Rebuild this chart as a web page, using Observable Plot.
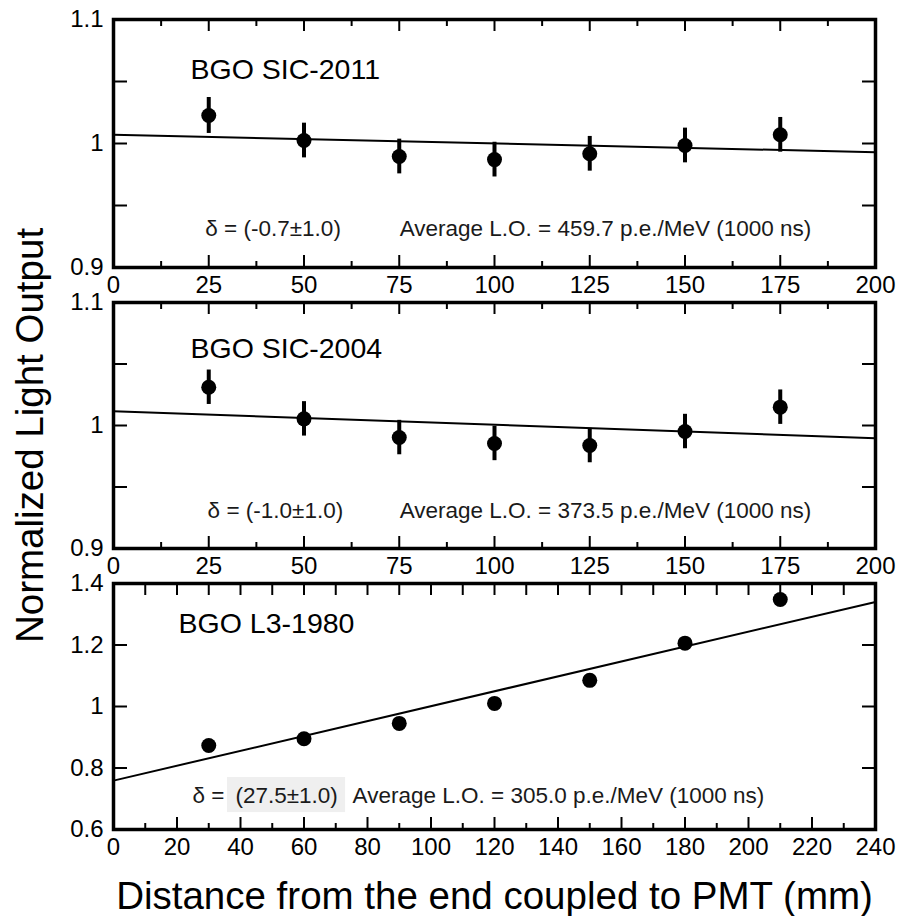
<!DOCTYPE html>
<html><head><meta charset="utf-8">
<script src="https://cdn.jsdelivr.net/npm/d3@7"></script>
<script src="https://cdn.jsdelivr.net/npm/@observablehq/plot@0.6"></script>
<style>
body{margin:0;background:#fff;}
#chart{position:relative;width:900px;height:916px;background:#fff;}
#chart svg{position:absolute;left:0;top:0;}
</style></head><body><div id="chart"></div>
<script>
// ---- data ----
const posSIC = [25, 50, 75, 100, 125, 150, 175];
const lo2011 = [1.0226, 1.0024, 0.9895, 0.9870, 0.9917, 0.9984, 1.0070];
const err2011 = [0.0145, 0.014, 0.014, 0.014, 0.014, 0.014, 0.014];
const fitX2011 = [0, 200];
const fitY2011 = [1.007, 0.993];

const lo2004 = [1.0311, 1.0054, 0.9902, 0.9854, 0.9837, 0.9951, 1.0149];
const err2004 = [0.014, 0.014, 0.014, 0.014, 0.014, 0.014, 0.014];
const fitX2004 = [0, 200];
const fitY2004 = [1.0116, 0.9897];

const posL3 = [30, 60, 90, 120, 150, 180, 210];
const lo1980 = [0.873, 0.895, 0.945, 1.010, 1.085, 1.206, 1.348];
const fitX1980 = [0, 240];
const fitY1980 = [0.759, 1.340];

const xTicksSIC = [0, 25, 50, 75, 100, 125, 150, 175, 200];
const xMinorSIC = [12.5, 37.5, 62.5, 87.5, 112.5, 137.5, 162.5, 187.5];
const xTicksL3 = [0, 20, 40, 60, 80, 100, 120, 140, 160, 180, 200, 220, 240];
const xMinorL3 = [10, 30, 50, 70, 90, 110, 130, 150, 170, 190, 210, 230];
const yLabelsSIC = [0.9, 1, 1.1];
const yInnerSIC = [0.95, 1, 1.05];
const yLabelsL3 = [0.6, 0.8, 1, 1.2, 1.4];
const yInnerL3 = [0.8, 1, 1.2];

const titles = ["BGO SIC-2011", "BGO SIC-2004", "BGO L3-1980"];
const deltas = ["δ = (-0.7±1.0)", "δ = (-1.0±1.0)", "(27.5±1.0)"];
const averages = [
  "Average L.O. = 459.7 p.e./MeV (1000 ns)",
  "Average L.O. = 373.5 p.e./MeV (1000 ns)",
  "Average L.O. = 305.0 p.e./MeV (1000 ns)"
];
const yAxisLabel = "Normalized Light Output";
const xAxisLabel = "Distance from the end coupled to PMT (mm)";

// ---- layout ----
const W = 900, H = 916, ML = 113, MR = 25;
const FW = W - ML - MR;
const FONT = "'Liberation Sans', Arial, Helvetica, sans-serif";
const TXT = "#1a1a1a";
const ANN = 22.5;
const TICKFS = 24;

function panel(o) {
  const FH = H - o.mt - o.mb;
  const marks = [];
  if (o.box) marks.push(Plot.rect([0], {...o.box, fill: "#efefef"}));
  // inner ticks
  marks.push(Plot.tickX(o.xTop, {x: d => d, insetBottom: FH - 12, strokeWidth: 2, stroke: "black"}));
  if (o.xTopMinor) marks.push(Plot.tickX(o.xTopMinor, {x: d => d, insetBottom: FH - o.topMinorLen, strokeWidth: 2, stroke: "black"}));
  marks.push(Plot.tickX(o.xMajor, {x: d => d, insetTop: FH - 12, strokeWidth: 2, stroke: "black"}));
  marks.push(Plot.tickX(o.xMinor, {x: d => d, insetTop: FH - 6, strokeWidth: 2, stroke: "black"}));
  marks.push(Plot.tickY(o.yInner, {y: d => d, insetRight: FW - 14, strokeWidth: 2, stroke: "black"}));
  marks.push(Plot.tickY(o.yInner, {y: d => d, insetLeft: FW - 13, strokeWidth: 2, stroke: "black"}));
  // axes (labels only)
  marks.push(Plot.axisX(o.xMajor, {anchor: "bottom", tickSize: 0, tickPadding: 8, fontSize: TICKFS, fill: "black", tickFormat: d => String(d), label: null}));
  marks.push(Plot.axisY(o.yLabels, {anchor: "left", tickSize: 0, tickPadding: 10, fontSize: TICKFS, fill: "black", tickFormat: d => String(d), label: null}));
  // fit line
  marks.push(Plot.line(o.fitX.map((x, i) => ({x, y: o.fitY[i]})), {x: "x", y: "y", stroke: "black", strokeWidth: 2}));
  // error bars
  if (o.err) marks.push(Plot.ruleX(o.pts, {x: "x", y1: d => d.y - d.e, y2: d => d.y + d.e, stroke: "black", strokeWidth: 4}));
  marks.push(Plot.dot(o.pts, {x: "x", y: "y", r: 7.5, fill: "black", stroke: null}));
  // texts
  marks.push(Plot.text([o.title], {x: o.titlePos[0], y: o.titlePos[1], text: d => d, textAnchor: "start", lineAnchor: "bottom", fontSize: 28.5, fill: "black"}));
  if (o.deltaPrefix) marks.push(Plot.text([o.deltaPrefix], {x: o.prefixPos[0], y: o.prefixPos[1], text: d => d, textAnchor: "start", lineAnchor: "bottom", fontSize: ANN, fill: TXT}));
  marks.push(Plot.text([o.delta], {x: o.deltaPos[0], y: o.deltaPos[1], text: d => d, textAnchor: "start", lineAnchor: "bottom", fontSize: ANN, fill: TXT}));
  marks.push(Plot.text([o.avg], {x: o.avgPos[0], y: o.avgPos[1], text: d => d, textAnchor: "start", lineAnchor: "bottom", fontSize: ANN, fill: TXT}));
  if (o.extra) marks.push(...o.extra);
  marks.push(Plot.frame({stroke: "black", strokeWidth: 3.5}));
  return Plot.plot({
    width: W, height: H,
    marginLeft: ML, marginRight: MR, marginTop: o.mt, marginBottom: o.mb,
    style: {fontFamily: FONT, fontSize: TICKFS + "px", color: "black", background: "transparent", overflow: "visible"},
    x: {domain: o.xDomain, axis: null},
    y: {domain: o.yDomain, axis: null},
    marks
  });
}

const chart = document.getElementById("chart");

chart.append(panel({
  mt: 19, mb: H - 267,
  xDomain: [0, 200], yDomain: [0.9, 1.1],
  xMajor: xTicksSIC, xMinor: xMinorSIC, xTop: xTicksSIC, xTopMinor: xMinorSIC, topMinorLen: 7,
  yLabels: yLabelsSIC, yInner: yInnerSIC,
  pts: posSIC.map((x, i) => ({x, y: lo2011[i], e: err2011[i]})), err: true,
  fitX: fitX2011, fitY: fitY2011,
  title: titles[0], titlePos: [20.2, 1.0524],
  delta: deltas[0], deltaPos: [24.1, 0.9258],
  avg: averages[0], avgPos: [75.1, 0.9258]
}));

chart.append(panel({
  mt: 302, mb: H - 548,
  xDomain: [0, 200], yDomain: [0.9, 1.1],
  xMajor: xTicksSIC, xMinor: xMinorSIC, xTop: xTicksSIC, xTopMinor: xMinorSIC, topMinorLen: 7,
  yLabels: yLabelsSIC, yInner: yInnerSIC,
  pts: posSIC.map((x, i) => ({x, y: lo2004[i], e: err2004[i]})), err: true,
  fitX: fitX2004, fitY: fitY2004,
  title: titles[1], titlePos: [20.2, 1.0545],
  delta: deltas[1], deltaPos: [24.7, 0.9252],
  avg: averages[1], avgPos: [75.1, 0.9252],
  extra: [Plot.text([yAxisLabel], {frameAnchor: "left", dx: -71, dy: 10, rotate: -90, text: d => d, lineAnchor: "bottom", textAnchor: "middle", fontSize: 38.5, fill: "black"})]
}));

chart.append(panel({
  mt: 583, mb: H - 829,
  xDomain: [0, 240], yDomain: [0.6, 1.4],
  xMajor: xTicksL3, xMinor: xMinorL3, xTop: xTicksL3.concat(xMinorL3), xTopMinor: null,
  yLabels: yLabelsL3, yInner: yInnerL3,
  pts: posL3.map((x, i) => ({x, y: lo1980[i]})), err: false,
  fitX: fitX1980, fitY: fitY1980,
  box: {x1: 35.9, x2: 73.1, y1: 0.655, y2: 0.769},
  title: titles[2], titlePos: [20.5, 1.2374],
  deltaPrefix: "δ =", prefixPos: [24.9, 0.6846],
  delta: deltas[2], deltaPos: [38.4, 0.6846],
  avg: averages[2], avgPos: [75.3, 0.6846],
  extra: [Plot.text([xAxisLabel], {frameAnchor: "bottom", dx: 0, dy: 79, text: d => d, lineAnchor: "bottom", textAnchor: "middle", fontSize: 38.5, fill: "black"})]
}));
</script></body></html>
